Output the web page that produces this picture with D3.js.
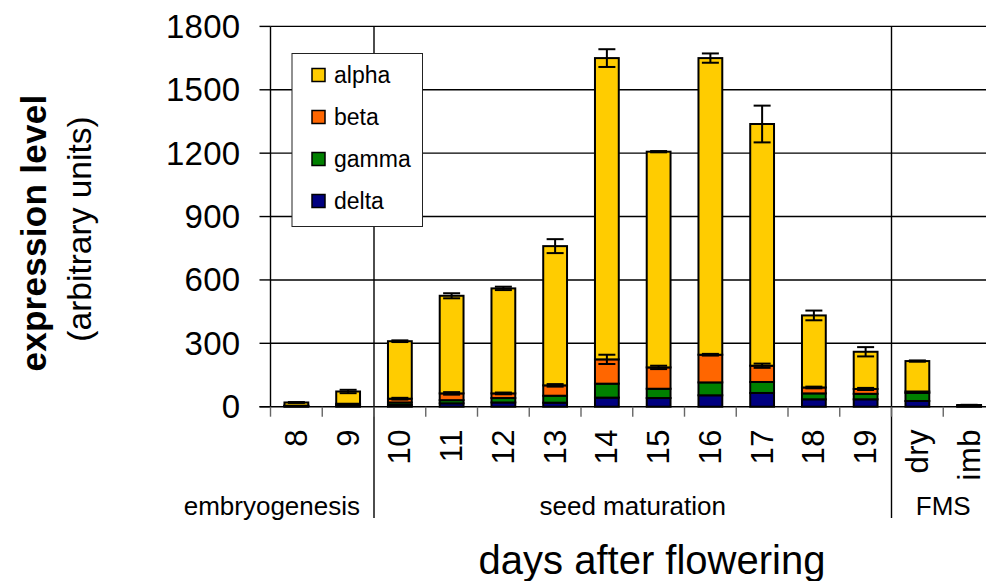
<!DOCTYPE html>
<html>
<head>
<meta charset="utf-8">
<script src="https://cdn.jsdelivr.net/npm/d3@7"></script>
<style>
  html, body { margin: 0; padding: 0; background: #fff; }
  svg { display: block; font-family: Arial, "Liberation Sans", sans-serif; }
</style>
</head>
<body>
<svg id="chart" width="986" height="581"></svg>
<script>
// ---------------- data ----------------
const categories = ["8","9","10","11","12","13","14","15","16","17","18","19","dry","imb"];
const delta = [2, 4, 8, 16, 20, 19, 43, 41, 54, 65, 35, 35, 27, 2];
const gamma = [2, 6, 12, 15, 21, 33, 66, 44, 61, 52, 28, 26, 38, 2];
const beta  = [1, 4, 18, 32, 22, 49, 115, 101, 131, 77, 28, 23, 7, 1];
const alpha = [15, 58, 272, 462, 497, 659, 1426, 1021, 1404, 1144, 341, 176, 144, 3];
const totalErr = [2, 8, 4, 12, 8, 33, 42, 3, 22, 87, 23, 22, 3, 1];
const betaErr  = [0, 0, 4, 6, 4, 6, 22, 8, 4, 10, 4, 5, 0, 0];
const seriesNames = ["alpha", "beta", "gamma", "delta"];
const seriesColors = ["#FFCC00", "#FF6600", "#008000", "#000080"];
const yTicks = [0, 300, 600, 900, 1200, 1500, 1800];
const groups = [
  {label: "embryogenesis", from: "8", to: "9"},
  {label: "seed maturation", from: "10", to: "19"},
  {label: "FMS", from: "dry", to: "imb"}
];
const yTitle1 = "expression level";
const yTitle2 = "(arbitrary units)";
const xTitle = "days after flowering";

// ---------------- layout ----------------
const svg = d3.select("#chart");
const pLeft = 270.5, pRight = 995, pTop = 26.4, pBottom = 406.7;

const x = d3.scaleBand().domain(categories).range([pLeft, pRight])
  .paddingInner(0.54).paddingOuter(0.27);
const step = x.step();
const y = d3.scaleLinear().domain([0, 1800]).range([pBottom, pTop]);

const rows = categories.map((c, i) => ({
  cat: c, alpha: alpha[i], beta: beta[i], gamma: gamma[i], delta: delta[i]
}));
const stackOrder = ["delta", "gamma", "beta", "alpha"];
const stacked = d3.stack().keys(stackOrder)(rows);
const color = d3.scaleOrdinal().domain(seriesNames).range(seriesColors);

// gridlines
svg.append("g").selectAll("line").data(yTicks.filter(d => d > 0)).join("line")
  .attr("x1", pLeft).attr("x2", pRight)
  .attr("y1", d => y(d)).attr("y2", d => y(d))
  .attr("stroke", "#000").attr("stroke-width", 1.4);

// group separators (full height)
const boundaryIdx = [2, 12];
svg.append("g").selectAll("line").data(boundaryIdx).join("line")
  .attr("x1", i => pLeft + i * step).attr("x2", i => pLeft + i * step)
  .attr("y1", pTop).attr("y2", 518)
  .attr("stroke", "#000").attr("stroke-width", 1.4);

// legend (drawn over grid)
const lg = svg.append("g");
lg.append("rect").attr("x", 292).attr("y", 53.5).attr("width", 130.5).attr("height", 173)
  .attr("fill", "#fff").attr("stroke", "#222").attr("stroke-width", 1);
seriesNames.forEach((s, i) => {
  const cy = 75 + i * 42;
  lg.append("rect").attr("x", 312).attr("y", cy - 6.5).attr("width", 13).attr("height", 13)
    .attr("fill", color(s)).attr("stroke", "#000").attr("stroke-width", 1.5);
  lg.append("text").attr("x", 334).attr("y", cy).attr("dominant-baseline", "central")
    .attr("font-size", 23).text(s);
});

// y axis line + ticks
svg.append("line").attr("x1", pLeft).attr("x2", pLeft).attr("y1", pTop).attr("y2", pBottom)
  .attr("stroke", "#000").attr("stroke-width", 1.4);
svg.append("g").selectAll("line").data(yTicks).join("line")
  .attr("x1", 259.5).attr("x2", pLeft)
  .attr("y1", d => y(d)).attr("y2", d => y(d))
  .attr("stroke", "#000").attr("stroke-width", 1.4);
svg.append("g").selectAll("text").data(yTicks).join("text")
  .attr("x", 240.5).attr("y", d => y(d)).attr("text-anchor", "end")
  .attr("dominant-baseline", "central").attr("font-size", 33).attr("letter-spacing", 0.3)
  .text(d => d);

// x axis line + category ticks
svg.append("line").attr("x1", 259.5).attr("x2", pRight).attr("y1", pBottom).attr("y2", pBottom)
  .attr("stroke", "#000").attr("stroke-width", 1.4);
svg.append("g").selectAll("line").data(d3.range(categories.length + 1)).join("line")
  .attr("x1", i => pLeft + i * step).attr("x2", i => pLeft + i * step)
  .attr("y1", pBottom).attr("y2", pBottom + 10)
  .attr("stroke", "#666").attr("stroke-width", 1.4);

// bars
svg.append("g").selectAll("g").data(stacked).join("g")
  .attr("fill", d => color(d.key))
  .selectAll("rect").data(d => d).join("rect")
  .attr("x", d => x(d.data.cat)).attr("width", x.bandwidth())
  .attr("y", d => y(d[1])).attr("height", d => y(d[0]) - y(d[1]))
  .attr("stroke", "#000").attr("stroke-width", 2);

// error bars
function errorBars(tops, errs) {
  const data = categories.map((c, i) => ({c, v: tops[i], e: errs[i]})).filter(d => d.e > 0);
  const g = svg.append("g").attr("stroke", "#000").attr("stroke-width", 2);
  data.forEach(d => {
    const cx = x(d.c) + x.bandwidth() / 2;
    g.append("line").attr("x1", cx).attr("x2", cx).attr("y1", y(d.v - d.e)).attr("y2", y(d.v + d.e));
    [d.v - d.e, d.v + d.e].forEach(v => {
      g.append("line").attr("x1", cx - 8.5).attr("x2", cx + 8.5).attr("y1", y(v)).attr("y2", y(v));
    });
  });
}
const totals = categories.map((c, i) => alpha[i] + beta[i] + gamma[i] + delta[i]);
const betaTops = categories.map((c, i) => beta[i] + gamma[i] + delta[i]);
errorBars(betaTops, betaErr);
errorBars(totals, totalErr);

// x tick labels
svg.append("g").selectAll("text").data(categories).join("text")
  .attr("transform", d => `translate(${x(d) + x.bandwidth() / 2},${429}) rotate(-90)`)
  .attr("text-anchor", "end").attr("dominant-baseline", "central")
  .attr("font-size", 31).attr("letter-spacing", 0.5).text(d => d);

// group labels
groups.forEach(gp => {
  const i0 = categories.indexOf(gp.from), i1 = categories.indexOf(gp.to);
  const cx = pLeft + (i0 + i1 + 1) / 2 * step;
  const t = svg.append("text").attr("y", 515).attr("font-size", 26).text(gp.label);
  if (gp.label === "embryogenesis") {
    t.attr("x", 360).attr("text-anchor", "end");
  } else {
    t.attr("x", cx).attr("text-anchor", "middle");
  }
});

// titles
svg.append("text").attr("transform", "translate(33,233) rotate(-90)")
  .attr("text-anchor", "middle").attr("dominant-baseline", "central")
  .attr("font-size", 35).attr("font-weight", "bold").attr("letter-spacing", 0.3).text(yTitle1);
svg.append("text").attr("transform", "translate(79,229) rotate(-90)")
  .attr("text-anchor", "middle").attr("dominant-baseline", "central")
  .attr("font-size", 33.5).text(yTitle2);
svg.append("text").attr("x", 652).attr("y", 574).attr("text-anchor", "middle")
  .attr("font-size", 40).text(xTitle);
</script>
</body>
</html>
